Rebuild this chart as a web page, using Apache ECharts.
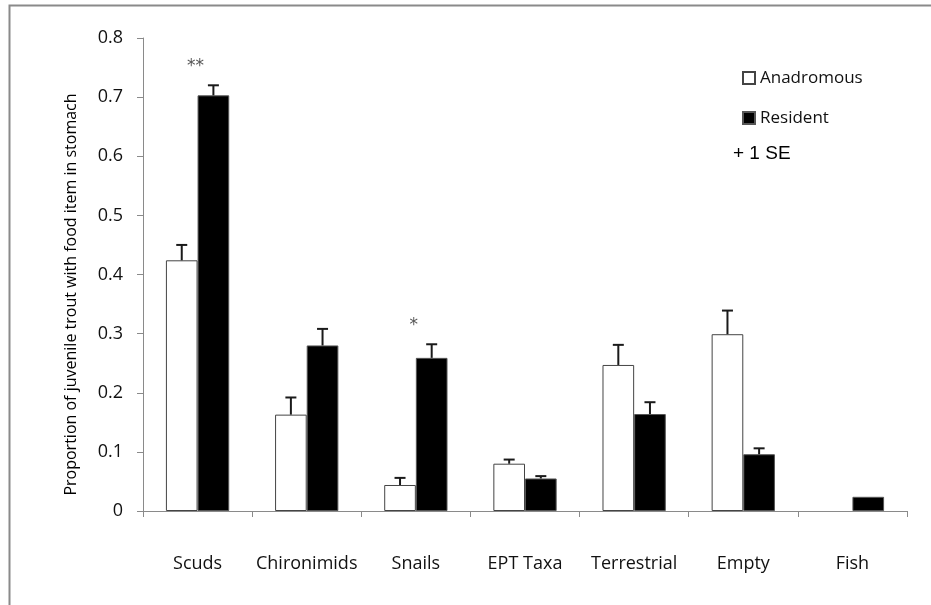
<!DOCTYPE html>
<html>
<head>
<meta charset="utf-8">
<script src="https://cdn.jsdelivr.net/npm/echarts@6/dist/echarts.min.js"></script>
<style>
html,body{margin:0;padding:0;background:#fff;}
#chart{width:931px;height:605px;}
</style>
</head>
<body>
<div id="chart"></div>
<script>
const categories = ['Scuds', 'Chironimids', 'Snails', 'EPT Taxa', 'Terrestrial', 'Empty', 'Fish'];
const anadromous   = [0.424, 0.163, 0.044, 0.080, 0.247, 0.299, 0];
const anadromousSE = [0.026, 0.029, 0.012, 0.007, 0.034, 0.040, 0];
const resident     = [0.703, 0.280, 0.259, 0.055, 0.164, 0.096, 0.024];
const residentSE   = [0.017, 0.028, 0.023, 0.004, 0.020, 0.010, 0];
const significance = ['**', '', '*', '', '', '', ''];
const yMin = 0, yMax = 0.8, yStep = 0.1;
const seriesNames = ['Anadromous', 'Resident'];
const seNote = '+ 1 SE';
const yTitle = 'Proportion of juvenile trout with food item in stomach';

const CAT_GAP = 0.42;
const labelFont = '"Open Sans", "Liberation Sans", sans-serif';

function errorRender(side) {
  return function (params, api) {
    const i = api.value(0), v = api.value(1), se = api.value(2);
    if (!se) return null;
    const base = api.coord([i, v]);
    const top = api.coord([i, v + se]);
    const band = api.size([1, 0])[0];
    const bw = band * (1 - CAT_GAP) / 2;
    const x = base[0] + side * bw / 2;
    const st = { stroke: '#1a1a1a', lineWidth: 2 };
    return {
      type: 'group',
      children: [
        { type: 'line', shape: { x1: x, y1: base[1], x2: x, y2: top[1] }, style: st },
        { type: 'line', shape: { x1: x - 5.5, y1: top[1], x2: x + 5.5, y2: top[1] }, style: st }
      ]
    };
  };
}

function sigRender(params, api) {
  const i = api.value(0), v = api.value(1);
  const txt = significance[i];
  if (!txt) return null;
  const p = api.coord([i, v]);
  return {
    type: 'text',
    x: p[0] - 2, y: p[1] - 10,
    style: { text: txt, fill: '#555', font: '17px "DejaVu Sans", sans-serif', align: 'center', verticalAlign: 'bottom' }
  };
}

function barItems(vals, st) {
  return vals.map(v => v === 0 ? { value: v, itemStyle: { borderWidth: 0 } } : v);
}

const chart = echarts.init(document.getElementById('chart'), null, { renderer: 'canvas' });
chart.setOption({
  animation: false,
  backgroundColor: '#fff',
  grid: { left: 143, right: 24, top: 38, bottom: 94 },
  legend: {
    orient: 'vertical',
    left: 737, top: 64,
    itemWidth: 12, itemHeight: 12,
    itemGap: 22,
    icon: 'rect',
    data: seriesNames,
    textStyle: { fontFamily: labelFont, fontSize: 17, color: '#111', lineHeight: 18, padding: [0, 0, 0, 0] }
  },
  graphic: [
    { type: 'polyline', shape: { points: [[9.5, 605], [9.5, 5.5], [931, 5.5]] }, style: { stroke: '#8a8a8a', lineWidth: 2, fill: null }, silent: true },
    { type: 'text', left: 733, top: 144, style: { text: seNote, font: '19px "Liberation Sans", Arial, sans-serif', fill: '#000' } }
  ],
  xAxis: {
    type: 'category',
    data: categories,
    axisLine: { lineStyle: { color: '#8a8a8a', width: 1 } },
    axisTick: { show: true, length: 6, lineStyle: { color: '#8a8a8a' } },
    axisLabel: { interval: 0, margin: 44, fontFamily: labelFont, fontSize: 18, color: '#111' }
  },
  yAxis: {
    type: 'value',
    min: yMin, max: yMax, interval: yStep,
    name: yTitle,
    nameLocation: 'middle',
    nameRotate: 90,
    nameGap: 64,
    nameTextStyle: { fontFamily: labelFont, fontSize: 16, color: '#000', padding: [0, 40, 0, 0] },
    axisLine: { show: true, lineStyle: { color: '#8a8a8a', width: 1 } },
    axisTick: { show: true, length: 6, lineStyle: { color: '#8a8a8a' } },
    splitLine: { show: false },
    axisLabel: { margin: 20, fontFamily: labelFont, fontSize: 18, color: '#111', formatter: v => String(Math.round(v * 10) / 10) }
  },
  series: [
    {
      name: seriesNames[0], type: 'bar', data: barItems(anadromous),
      barGap: '0%', barCategoryGap: (CAT_GAP * 100) + '%',
      itemStyle: { color: '#fff', borderColor: '#444', borderWidth: 1 }
    },
    {
      name: seriesNames[1], type: 'bar', data: barItems(resident),
      barGap: '0%', barCategoryGap: (CAT_GAP * 100) + '%',
      itemStyle: { color: '#000', borderColor: '#555', borderWidth: 1 }
    },
    {
      type: 'custom', name: 'errA', renderItem: errorRender(-1),
      data: anadromous.map((v, i) => [i, v, anadromousSE[i]]),
      encode: { x: 0, y: 1 }, z: 5, silent: true
    },
    {
      type: 'custom', name: 'errR', renderItem: errorRender(1),
      data: resident.map((v, i) => [i, v, residentSE[i]]),
      encode: { x: 0, y: 1 }, z: 5, silent: true
    },
    {
      type: 'custom', name: 'sig', renderItem: sigRender,
      data: resident.map((v, i) => [i, v + residentSE[i]]),
      encode: { x: 0, y: 1 }, z: 6, silent: true
    }
  ]
});
</script>
</body>
</html>
